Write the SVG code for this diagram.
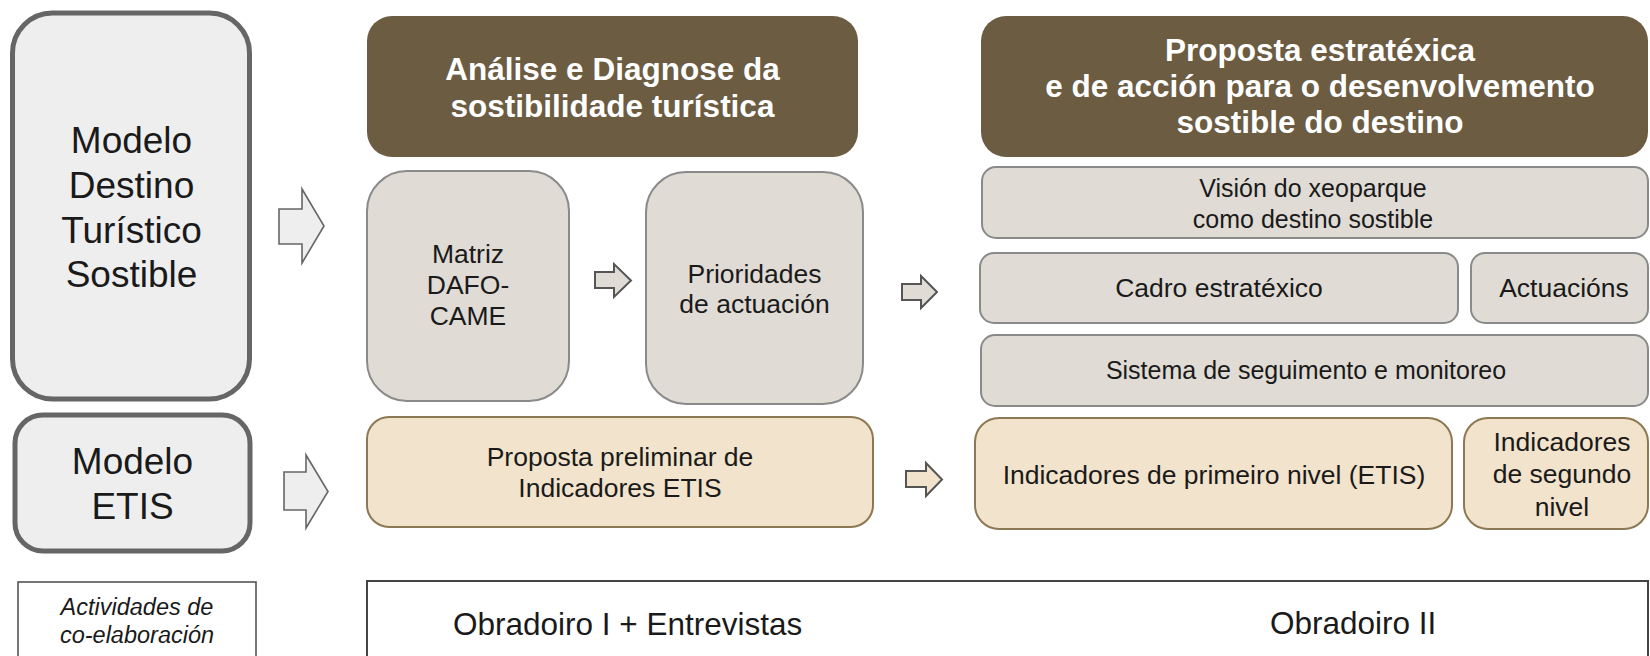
<svg xmlns="http://www.w3.org/2000/svg" width="1650" height="656" viewBox="0 0 1650 656">
<style>
  .model { fill: #eeeeee; stroke: #666666; stroke-width: 5; }
  .hdr { fill: #6b5c42; }
  .gray { fill: #e0dcd5; stroke: #8a8a8a; stroke-width: 2; }
  .beige { fill: #f2e3cc; stroke: #8c7853; stroke-width: 2; }
  .plain { fill: #ffffff; stroke: #555555; stroke-width: 1.6; }
  .plain2 { fill: #ffffff; stroke: #444444; stroke-width: 2; }
  .bigarrow { fill: #eeeeee; stroke: #666666; stroke-width: 1.6; }
  .arrowg { fill: #e0dcd5; stroke: #555555; stroke-width: 2; }
  .arrowb { fill: #f2e3cc; stroke: #555555; stroke-width: 2; }
  text { font-family: "Liberation Sans", Arial, sans-serif; fill: #1a1a1a; text-anchor: middle; }
  .ht { font-weight: 700; font-size: 31.5px; fill: #ffffff; }
  .big { font-size: 37px; }
  .mid { font-size: 26.5px; }
  .rt { font-size: 25px; }
  .obr { text-anchor: start; font-size: 31.5px; }
  .it { font-style: italic; font-size: 23.5px; }
</style>

<g id="modelo-destino">
  <rect class="model" x="12.5" y="13" width="237" height="386" rx="40"/>
  <text class="big"><tspan x="131.5" y="153">Modelo</tspan><tspan x="131.5" y="198">Destino</tspan><tspan x="131.5" y="243">Turístico</tspan><tspan x="131.5" y="287">Sostible</tspan></text>
</g>

<g id="modelo-etis">
  <rect class="model" x="15" y="415" width="235" height="136" rx="28"/>
  <text class="big"><tspan x="132.5" y="474">Modelo</tspan><tspan x="132.5" y="519">ETIS</tspan></text>
</g>

<g id="actividades">
  <rect class="plain" x="18" y="582" width="238" height="100"/>
  <text class="it"><tspan x="137" y="615">Actividades de</tspan><tspan x="137" y="643">co-elaboración</tspan></text>
</g>

<g id="analise-header">
  <rect class="hdr" x="367" y="16" width="491" height="141" rx="25"/>
  <text class="ht"><tspan x="612.5" y="80">Análise e Diagnose da</tspan><tspan x="612.5" y="117">sostibilidade turística</tspan></text>
</g>

<g id="matriz">
  <rect class="gray" x="367" y="171" width="202" height="230" rx="40"/>
  <text class="mid"><tspan x="468" y="263">Matriz</tspan><tspan x="468" y="294">DAFO-</tspan><tspan x="468" y="325">CAME</tspan></text>
</g>

<g id="prioridades">
  <rect class="gray" x="646" y="172" width="217" height="232" rx="40"/>
  <text class="mid"><tspan x="754.5" y="283">Prioridades</tspan><tspan x="754.5" y="313">de actuación</tspan></text>
</g>

<g id="proposta-preliminar">
  <rect class="beige" x="367" y="417" width="506" height="110" rx="22"/>
  <text class="mid"><tspan x="620" y="466">Proposta preliminar de</tspan><tspan x="620" y="497">Indicadores ETIS</tspan></text>
</g>

<g id="proposta-header">
  <rect class="hdr" x="981" y="16" width="667" height="141" rx="25"/>
  <text class="ht"><tspan x="1320" y="61">Proposta estratéxica</tspan><tspan x="1320" y="97">e de acción para o desenvolvemento</tspan><tspan x="1320" y="133">sostible do destino</tspan></text>
</g>

<g id="vision">
  <rect class="gray" x="982" y="167" width="666" height="71" rx="14"/>
  <text class="rt"><tspan x="1313" y="197">Visión do xeoparque</tspan><tspan x="1313" y="228">como destino sostible</tspan></text>
</g>

<g id="cadro">
  <rect class="gray" x="980" y="253" width="478" height="70" rx="14"/>
  <text class="mid" x="1219" y="297">Cadro estratéxico</text>
</g>

<g id="actuacions">
  <rect class="gray" x="1471" y="253" width="177" height="70" rx="14"/>
  <text class="mid" x="1564" y="297">Actuacións</text>
</g>

<g id="sistema">
  <rect class="gray" x="981" y="335" width="667" height="71" rx="14"/>
  <text class="rt" x="1306" y="379">Sistema de seguimento e monitoreo</text>
</g>

<g id="indicadores-primeiro">
  <rect class="beige" x="975" y="418" width="477" height="111" rx="24"/>
  <text class="mid" x="1214" y="484">Indicadores de primeiro nivel (ETIS)</text>
</g>

<g id="indicadores-segundo">
  <rect class="beige" x="1464" y="418" width="184" height="111" rx="24"/>
  <text class="mid"><tspan x="1562" y="451">Indicadores</tspan><tspan x="1562" y="483">de segundo</tspan><tspan x="1562" y="516">nivel</tspan></text>
</g>

<g id="obradoiros">
  <rect class="plain2" x="367" y="581" width="1281" height="100"/>
  <text class="obr" x="453" y="635">Obradoiro I + Entrevistas</text>
  <text class="obr" x="1270" y="634">Obradoiro II</text>
</g>

<g id="connectors">
  <polygon class="bigarrow" points="279,209 302,209 302,189 324,226 302,263 302,244 279,244"/>
  <polygon class="bigarrow" points="284,472 306,472 306,455 328,491.5 306,528 306,510 284,510"/>
  <polygon class="arrowg" points="595,272 614,272 614,264 631,280.5 614,297 614,288 595,288"/>
  <polygon class="arrowg" points="902,284 921,284 921,276 937,292 921,308 921,300 902,300"/>
  <polygon class="arrowb" points="906,471 926,471 926,463 942,479.5 926,496 926,487 906,487"/>
</g>
</svg>
